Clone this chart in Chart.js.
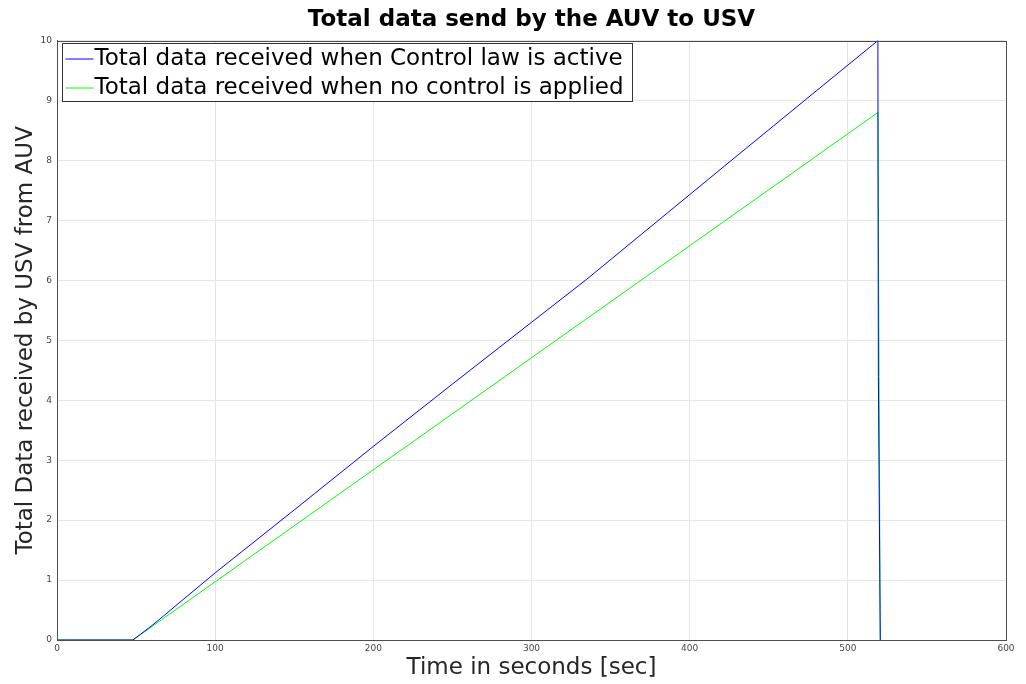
<!DOCTYPE html>
<html>
<head>
<meta charset="utf-8">
<script src="https://cdn.jsdelivr.net/npm/chart.js@4.4.1/dist/chart.umd.min.js"></script>
<style>
  html, body { margin: 0; padding: 0; background: #fff; }
  #wrap { width: 1026px; height: 684px; }
</style>
</head>
<body>
<div id="wrap"><canvas id="dataChart"></canvas></div>
<script>
// time (s) and total data for each run
const controlTime = [0, 48, 60, 100, 150, 200, 250, 300, 335, 400, 430, 480, 519, 519.3, 520.5];
const controlData = [0, 0, 0.24, 1.12, 2.17, 3.23, 4.27, 5.3, 6.02, 7.43, 8.08, 9.16, 10, 4.4, 0];
const noControlTime = [0, 48, 519, 520.5];
const noControlData = [0, 0, 8.8, 0];

const seriesLabels = [
    'Total data received when Control law is active',
    'Total data received when no control is applied'
];
const seriesColors = ['#0000ff', '#00ff00'];

function toPoints(xs, ys) {
    return xs.map(function (x, i) { return { x: x, y: ys[i] }; });
}

// box round the plot area, MATLAB style
const boxPlugin = {
    id: 'axesBox',
    afterDraw: function (chart) {
        const a = chart.chartArea;
        const c = chart.ctx;
        c.save();
        c.strokeStyle = '#4d4d4d';
        c.lineWidth = 1;
        c.strokeRect(Math.round(a.left) + 0.5, Math.round(a.top) + 0.5,
            Math.round(a.right - a.left), Math.round(a.bottom - a.top));
        c.restore();
    }
};

// legend drawn inside the plot at the top left
const insideLegend = {
    id: 'insideLegend',
    afterDraw: function (chart) {
        const a = chart.chartArea;
        const c = chart.ctx;
        c.save();
        c.font = '23px "DejaVu Sans"';
        let w = 0;
        chart.data.datasets.forEach(function (ds) {
            w = Math.max(w, c.measureText(ds.label).width);
        });
        const x0 = Math.round(a.left) + 5.5;
        const y0 = Math.round(a.top) + 2.5;
        const boxW = Math.round(w + 41);
        const boxH = 58;
        c.fillStyle = '#fff';
        c.fillRect(x0, y0, boxW, boxH);
        c.strokeStyle = '#333';
        c.lineWidth = 1;
        c.strokeRect(x0, y0, boxW, boxH);
        chart.data.datasets.forEach(function (ds, i) {
            const yy = y0 + 15 + i * 29;
            c.strokeStyle = ds.borderColor;
            c.beginPath();
            c.moveTo(x0 + 3, yy + 0.5);
            c.lineTo(x0 + 31, yy + 0.5);
            c.stroke();
            c.fillStyle = '#000';
            c.textBaseline = 'middle';
            c.fillText(ds.label, x0 + 32, yy + 1);
        });
        c.restore();
    }
};

const ctx = document.getElementById('dataChart').getContext('2d');

const dataChart = new Chart(ctx, {
    type: 'scatter',
    data: {
        datasets: [{
            label: seriesLabels[0],
            data: toPoints(controlTime, controlData),
            showLine: true,
            borderColor: seriesColors[0],
            backgroundColor: seriesColors[0],
            borderWidth: 1,
            pointRadius: 0,
            tension: 0
        },
        {
            label: seriesLabels[1],
            data: toPoints(noControlTime, noControlData),
            showLine: true,
            borderColor: seriesColors[1],
            backgroundColor: seriesColors[1],
            borderWidth: 1,
            pointRadius: 0,
            tension: 0
        }]
    },
    options: {
        responsive: true,
        maintainAspectRatio: false,
        animation: false,
        layout: {
            padding: { top: 0, right: 20, bottom: 2, left: 12 }
        },
        scales: {
            x: {
                type: 'linear',
                min: 0,
                max: 600,
                afterFit: function (scale) { scale.height = 42; },
                ticks: {
                    stepSize: 100,
                    color: '#444',
                    font: { family: 'DejaVu Sans', size: 9 },
                    padding: 3
                },
                grid: { color: '#e6e6e6', drawTicks: false },
                border: { color: '#4d4d4d' },
                title: {
                    display: true,
                    text: 'Time in seconds [sec]',
                    color: '#262626',
                    font: { family: 'DejaVu Sans', size: 23 },
                    padding: { top: 2, bottom: 0 }
                }
            },
            y: {
                min: 0,
                max: 10,
                afterFit: function (scale) { scale.width = 45; },
                ticks: {
                    stepSize: 1,
                    color: '#444',
                    font: { family: 'DejaVu Sans', size: 9 },
                    padding: 5
                },
                grid: { color: '#e6e6e6', drawTicks: false },
                border: { color: '#4d4d4d' },
                title: {
                    display: true,
                    text: 'Total Data received by USV from AUV',
                    color: '#262626',
                    font: { family: 'DejaVu Sans', size: 23 },
                    padding: { top: 0, bottom: 2 }
                }
            }
        },
        plugins: {
            legend: { display: false },
            tooltip: { enabled: false },
            title: {
                display: true,
                fullSize: false,
                text: 'Total data send by the AUV to USV',
                color: '#000',
                font: { family: 'DejaVu Sans', size: 23, weight: 'bold' },
                padding: { top: 6, bottom: 7 }
            }
        }
    },
    plugins: [boxPlugin, insideLegend]
});
</script>
</body>
</html>
